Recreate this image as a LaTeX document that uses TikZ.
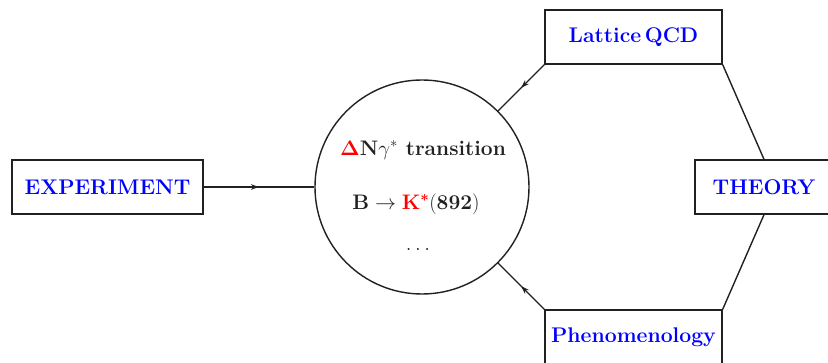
\RequirePackage{fix-cm}
\documentclass[tikz,border=0pt]{standalone}
\usepackage{amsmath,bm}
\usetikzlibrary{arrows.meta,decorations.markings}
\definecolor{ink}{rgb}{0.13,0.13,0.13}
\tikzset{
  box/.style={draw=ink, line width=1.4pt, rectangle, inner sep=0pt, minimum height=54pt, font=\fontsize{21.2}{25}\selectfont\bfseries, text=blue},
  link/.style={draw=ink, line width=1.4pt},
  midarrow/.style={link, postaction={decorate}, decoration={markings, mark=at position 0.5 with {\arrow{Stealth[length=8pt,width=5.5pt]}}}},
  inner/.style={inner sep=0pt, text=ink, font=\fontsize{21}{25}\selectfont\bfseries}
}
\begin{document}
\begin{tikzpicture}[x=1pt,y=-1pt]
\clip (0,0) rectangle (828,363);
\useasboundingbox (0,0) rectangle (828,363);
\node[box, minimum width=191pt] (exp) at (107.5,187) {EXPERIMENT};
\node[draw=ink, line width=1.4pt, circle, minimum size=214pt, inner sep=0pt] (circ) at (422,187) {};
\node[box, minimum width=177pt] (lat) at (633.5,37) {Lattice\,QCD};
\node[box, minimum width=177pt] (phen) at (633.5,337) {Phenomenology};
\node[box, minimum width=138pt] (theo) at (764,187) {THEORY};
\node[inner] (t1) at (423,150) {$\color{red}\bm{\Delta}$N$\gamma^*$ transition};
\node[inner] (t2) at (416,204) {$\mathbf{B}\rightarrow{\color{red}\mathbf{K}^{\bm{*}}}(\mathbf{892})$};
\node[inner] (t3) at (418,249) {$\ldots$};
\draw[midarrow] (exp.east) -- (circ);
\draw[midarrow] (lat.south west) -- (circ);
\draw[midarrow] (phen.north west) -- (circ);
\draw[link] (lat.south east) -- (theo.north);
\draw[link] (theo.south) -- (phen.north east);
\end{tikzpicture}
\end{document}
